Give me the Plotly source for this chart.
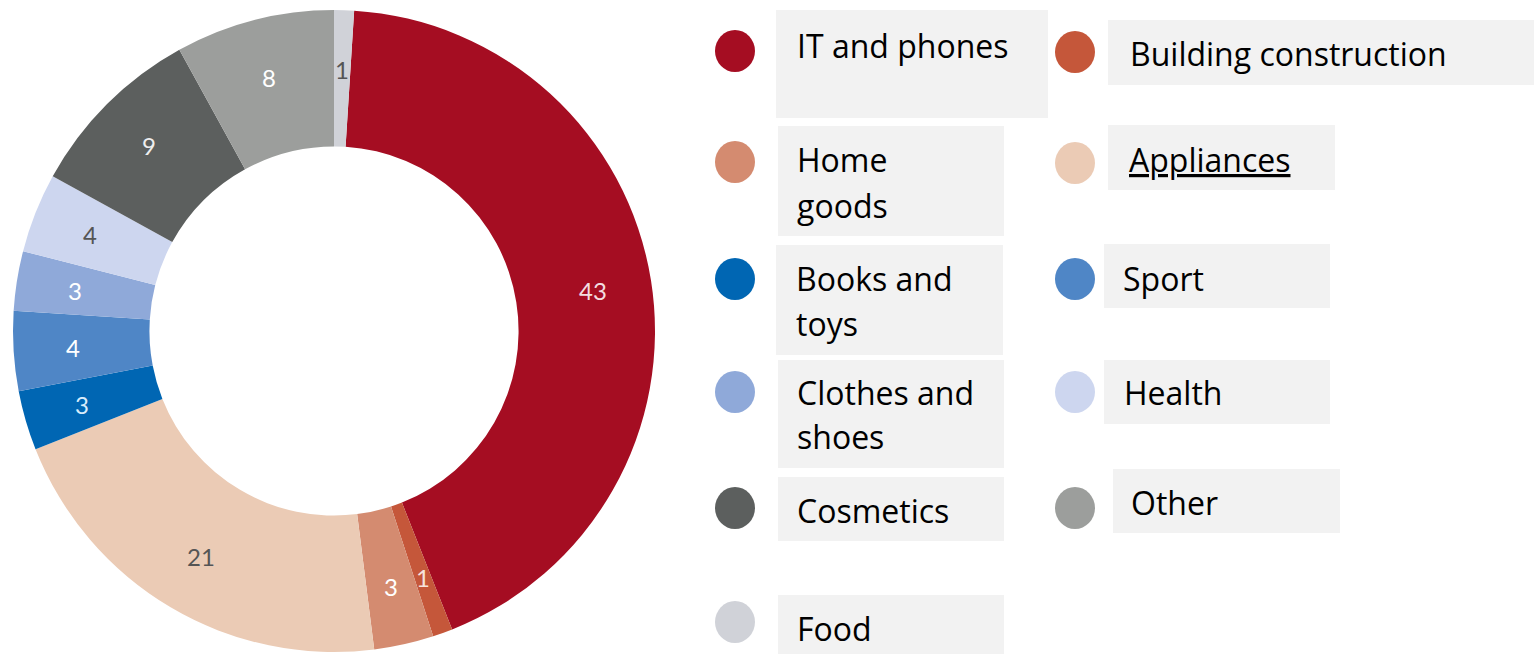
import math
import plotly.graph_objects as go

# ---- data ----
categories = ["IT and phones", "Building construction", "Home goods", "Appliances",
              "Books and toys", "Sport", "Clothes and shoes", "Health",
              "Cosmetics", "Other", "Food"]
shares = [43, 1, 3, 21, 3, 4, 3, 4, 9, 8, 1]

# ---- styles ----
colors = ["#a50d22", "#c5573a", "#d48b70", "#ebcbb5", "#0066b3", "#4f86c6",
          "#8fa9d9", "#cdd6ef", "#5c5f5e", "#9c9e9c", "#d0d2d8"]
label_colors = ["#f3dde0", "#f6e3dc", "#ffffff", "#555555", "#d8ecfb", "#ffffff",
                "#ffffff", "#555555", "#eeeeee", "#ffffff", "#555555"]

W, H = 1534, 654
CX, CY, R_OUT = 334, 331, 321
START_DEG = 3.6
LABEL_R = 262


def px(x):
    return x / W


def py(y):
    return 1 - y / H


fig = go.Figure()
fig.add_trace(go.Pie(
    labels=categories,
    values=shares,
    textinfo="none",
    marker=dict(colors=colors, line=dict(width=0)),
    hole=0.575,
    sort=False,
    direction="clockwise",
    rotation=START_DEG,
    showlegend=False,
    domain=dict(x=[px(CX - R_OUT), px(CX + R_OUT)], y=[py(CY + R_OUT), py(CY - R_OUT)]),
    hoverinfo="label+value",
))

annotations = []
shapes = []

# value labels on the ring, placed at each slice's mid-angle
total = sum(shares)
cum = 0
for v, lc in zip(shares, label_colors):
    mid = START_DEG + 360.0 * (cum + v / 2) / total
    cum += v
    a = math.radians(mid)
    lx = CX + LABEL_R * math.sin(a)
    ly = CY - LABEL_R * math.cos(a)
    annotations.append(dict(xref="paper", yref="paper", x=px(lx), y=py(ly),
                            text=str(v), showarrow=False, xanchor="center", yanchor="middle",
                            font=dict(family="Lato", size=24, color=lc)))

# ---- custom legend layout (pixel positions) ----
legend_layout = [
    ((735, 51), (776, 10, 1048, 118), 795, [(0, 45)]),
    ((1075, 52), (1108, 20, 1534, 85), 1128, [(0, 53)]),
    ((735, 162), (778, 126, 1004, 236), 795, [(0, 160), (1, 205)]),
    ((1075, 163), (1108, 125, 1335, 190), 1127, [(0, 160)]),
    ((735, 279), (776, 245, 1003, 355), 794, [(0, 278), (1, 323)]),
    ((1075, 279), (1104, 244, 1330, 308), 1121, [(0, 278)]),
    ((735, 392), (778, 360, 1004, 468), 795, [(0, 393), (1, 436)]),
    ((1075, 392), (1104, 360, 1330, 424), 1122, [(0, 393)]),
    ((735, 508), (778, 477, 1004, 541), 795, [(0, 510)]),
    ((1075, 508), (1113, 469, 1340, 533), 1129, [(0, 502)]),
    ((735, 622), (778, 595, 1004, 654), 795, [(0, 628)]),
]
wrapped = {
    "Home goods": ["Home", "goods"],
    "Books and toys": ["Books and", "toys"],
    "Clothes and shoes": ["Clothes and", "shoes"],
}

for cat, col, (cc, box, tx, lines) in zip(categories, colors, legend_layout):
    bx0, by0, bx1, by1 = box
    shapes.append(dict(type="rect", xref="paper", yref="paper",
                       x0=px(bx0), x1=px(bx1), y0=py(by1), y1=py(by0),
                       fillcolor="#f2f2f2", line=dict(width=0), layer="below"))
    cx, cy = cc
    shapes.append(dict(type="circle", xref="paper", yref="paper",
                       x0=px(cx - 20), x1=px(cx + 20), y0=py(cy + 21), y1=py(cy - 21),
                       fillcolor=col, line=dict(width=0)))
    parts = wrapped.get(cat, [cat])
    for idx, ly in lines:
        t = parts[idx]
        if cat == "Appliances":
            t = "<u>" + t + "</u>"
        annotations.append(dict(xref="paper", yref="paper", x=px(tx), y=py(ly),
                                text=t, showarrow=False, xanchor="left", yanchor="middle",
                                font=dict(family="Open Sans", size=32, color="#000000")))

fig.update_layout(
    width=W, height=H,
    margin=dict(l=0, r=0, t=0, b=0),
    paper_bgcolor="white", plot_bgcolor="white",
    shapes=shapes, annotations=annotations,
)

fig.write_html("out.html")
